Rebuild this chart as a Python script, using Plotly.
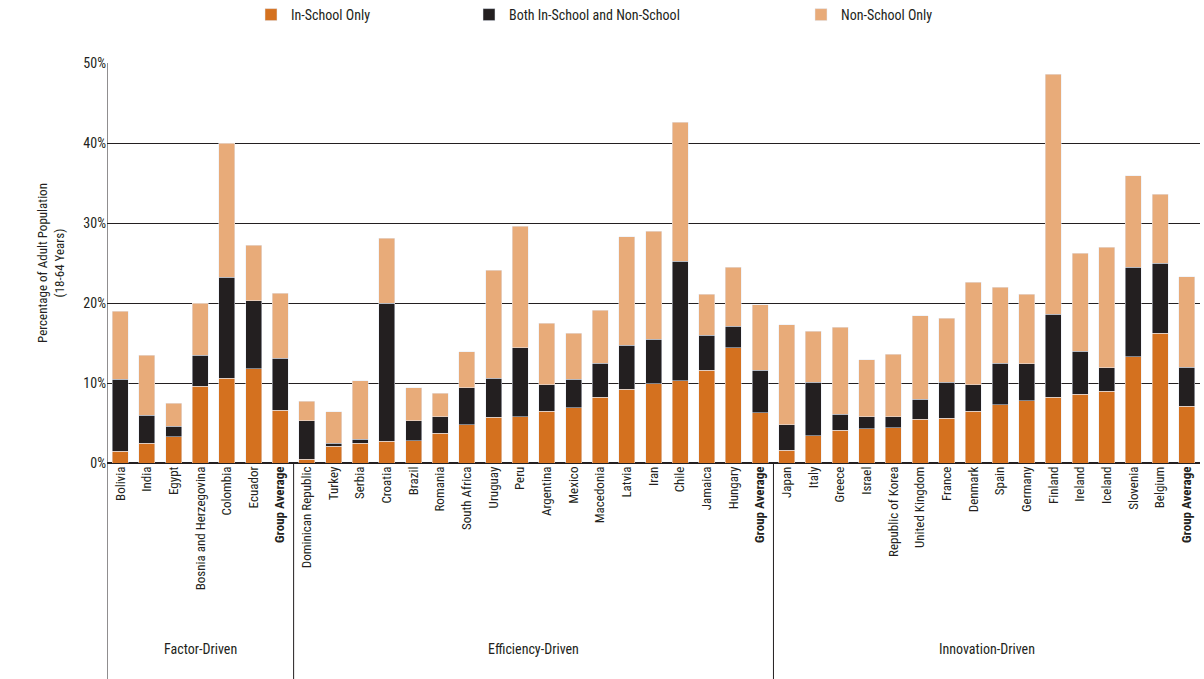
import plotly.graph_objects as go

countries = ["Bolivia","India","Egypt","Bosnia and Herzegovina","Colombia","Ecuador","<b>Group Average</b>",
 "Dominican Republic","Turkey","Serbia","Croatia","Brazil","Romania","South Africa","Uruguay","Peru","Argentina","Mexico","Macedonia","Latvia","Iran","Chile","Jamaica","Hungary","<b>Group Average</b>",
 "Japan","Italy","Greece","Israel","Republic of Korea","United Kingdom","France","Denmark","Spain","Germany","Finland","Ireland","Iceland","Slovenia","Belgium","<b>Group Average</b>"]
in_school = [1.5,2.5,3.3,9.6,10.6,11.8,6.6,
 0.5,2.1,2.5,2.7,2.8,3.7,4.8,5.7,5.8,6.5,6.9,8.2,9.2,9.9,10.3,11.6,14.4,6.3,
 1.6,3.4,4.1,4.3,4.4,5.5,5.6,6.5,7.3,7.8,8.2,8.6,9.0,13.3,16.2,7.1]
cum_both = [10.5,6.0,4.6,13.5,23.2,20.3,13.1,
 5.3,2.5,3.0,20.0,5.3,5.8,9.4,10.6,14.4,9.8,10.5,12.5,14.7,15.5,25.2,16.0,17.1,11.6,
 4.8,10.1,6.1,5.8,5.8,8.0,10.1,9.8,12.5,12.4,18.6,14.0,11.9,24.5,25.0,12.0]
total = [19.0,13.5,7.5,20.0,40.0,27.2,21.2,
 7.7,6.4,10.3,28.1,9.4,8.7,13.9,24.1,29.6,17.5,16.2,19.1,28.3,29.0,42.6,21.1,24.5,19.8,
 17.3,16.5,17.0,12.9,13.6,18.4,18.1,22.6,22.0,21.1,48.6,26.2,27.0,35.9,33.6,23.3]
groups = ["Factor-Driven","Efficiency-Driven","Innovation-Driven"]
group_sizes = [7,18,16]

both = [b-a for a,b in zip(in_school,cum_both)]
non = [t-b for b,t in zip(cum_both,total)]
x = list(range(len(countries)))

fig = go.Figure()
fig.add_bar(x=x,y=in_school,name="In-School Only",marker_color="#d4711f",width=0.6,legend="legend",showlegend=True)
fig.add_bar(x=x,y=both,name="Both In-School and Non-School",marker_color="#231f20",width=0.6,legend="legend2",showlegend=True)
fig.add_bar(x=x,y=non,name="Non-School Only",marker_color="#e8ab79",width=0.6,legend="legend3",showlegend=True)

font = "Liberation Sans Narrow, Roboto Condensed, Arial Narrow, sans-serif"
shapes = []
start = 0
ann = []
bounds = [-0.5]
for g,n in zip(groups,group_sizes):
    ann.append(dict(x=start+(n-1)/2,y=-0.49,xref="x",yref="paper",text=g,showarrow=False,font=dict(size=14,color="#231f20")))
    start += n
    bounds.append(start-0.5)
for b in bounds[1:-1]:
    shapes.append(dict(type="line",xref="x",yref="paper",x0=b,x1=b,y0=-0.54,y1=0,line=dict(color="#231f20",width=1)))
shapes.append(dict(type="line",xref="x",yref="paper",x0=-0.5,x1=-0.5,y0=-0.54,y1=1,line=dict(color="#231f20",width=1)))

def leg(px):
    return dict(orientation="h",x=(px-19)/1204,xanchor="left",xref="container",y=1-15/679,yanchor="middle",yref="container",font=dict(size=14))

fig.update_layout(barmode="stack",width=1204,height=679,showlegend=True,
    margin=dict(l=107,r=4,t=63,b=216),plot_bgcolor="white",paper_bgcolor="white",
    font=dict(family=font,size=13,color="#231f20"),bargap=0.3,
    legend=leg(270),legend2=leg(488),legend3=leg(820),
    shapes=shapes,annotations=ann,
    xaxis=dict(tickvals=x,ticktext=countries,tickangle=-90,range=[-0.5,len(x)-0.5],showgrid=False,ticks="",tickfont=dict(size=13),automargin=False),
    yaxis=dict(range=[0,50],dtick=10,ticksuffix="%",gridcolor="#231f20",gridwidth=1,showline=False,zeroline=True,zerolinecolor="#231f20",automargin=False,
               title=dict(text="Percentage of Adult Population<br>(18-64 Years)",font=dict(size=13)),tickfont=dict(size=14)))
fig.write_html("out.html", config={"displayModeBar": False}, post_script="document.body.style.margin='0';")
